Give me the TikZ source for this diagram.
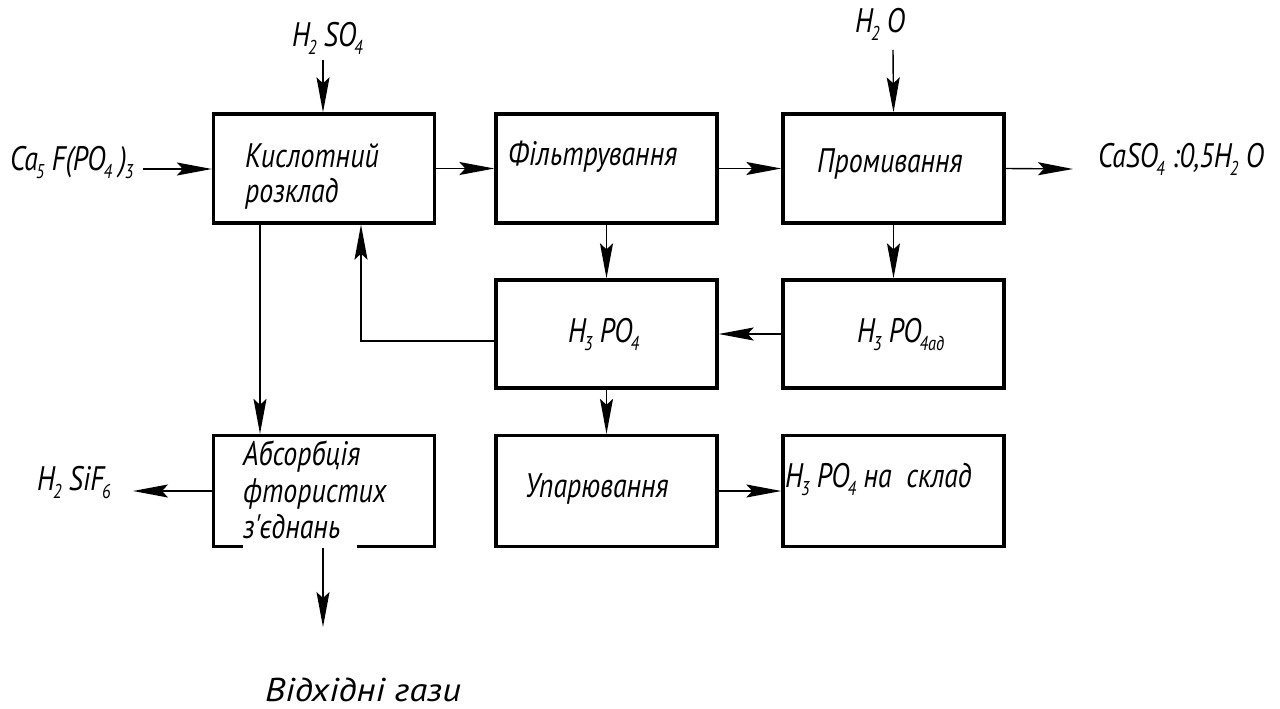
\documentclass[tikz,border=0pt]{standalone}
\usepackage{fontspec}
\setmainfont{PT Sans}
\newfontfamily\cf[FakeStretch=0.82]{PT Sans}
\newfontfamily\rf[FakeStretch=1.1]{PT Sans}
\usetikzlibrary{arrows.meta}
\newcommand\sbs[1]{\kern-2pt\raisebox{-8pt}{\fontsize{20}{20}\selectfont #1}}
\tikzset{
  boxst/.style={draw, line width=3.3pt, minimum width=221pt, inner sep=0pt},
  arr/.style={line width=1.4pt, -{Stealth[length=35pt,width=13pt,inset=6pt]}},
  lbl/.style={anchor=base west, inner sep=0pt, font=\cf\itshape\fontsize{34}{34}\selectfont},
}
\begin{document}
\begin{tikzpicture}[x=1pt,y=-1pt]
\useasboundingbox[fill=white] (0,0) rectangle (1280,709);
% boxes
\node[boxst, minimum height=109pt] (kr)   at (324,168.5) {};
\node[boxst, minimum height=109pt] (fil)  at (606.5,168.5) {};
\node[boxst, minimum height=109pt] (prom) at (893.5,168.5) {};
\node[boxst, minimum height=108pt] (hp)   at (606.5,334) {};
\node[boxst, minimum height=108pt] (had)  at (893.5,334) {};
\node[boxst, minimum height=111pt] (abs)  at (324,491) {};
\node[boxst, minimum height=111pt] (upar) at (606.5,491) {};
\node[boxst, minimum height=111pt] (skl)  at (893.5,491) {};
% box texts
\node[lbl] (t1a) at (245,167) {Кислотний};
\node[lbl] (t1b) at (245,202) {розклад};
\node[lbl] (t2) at (508,165) {Фільтрування};
\node[lbl] (t3) at (817,172) {Промивання};
\node[lbl] (t4) at (568,342) {H\sbs{3} PO\sbs{4}};
\node[lbl] (t5) at (857,342) {H\sbs{3} PO\sbs{4ад}};
\node[lbl] (t6a) at (243,465) {Абсорбція};
\node[lbl] (t6b) at (243,502) {фтористих};
\node[lbl, fill=white, inner xsep=0pt, inner ysep=3pt, text depth=9pt, text width=114pt] (t6c) at (243,538) {з'єднань};
\node[lbl] (t7) at (525,497) {Упарювання};
\node[lbl] (t8) at (785,487) {H\sbs{3} PO\sbs{4} на\ \ склад};
% outer labels
\node[lbl] (h2so4) at (292,47) {H\sbs{2} SO\sbs{4}};
\node[lbl] (ca5) at (10,170) {Ca\sbs{5} F(PO\sbs{4} )\sbs{3}};
\node[lbl] (h2o) at (855,33) {H\sbs{2} O};
\node[lbl] (caso4) at (1098,167) {CaSO\sbs{4} :0,5H\sbs{2} O};
\node[lbl] (h2sif6) at (37,490) {H\sbs{2} SiF\sbs{6}};
\node[anchor=base west, inner sep=0pt, font=\rf\itshape\fontsize{33}{33}\selectfont] (gas) at (265,701) {Відхідні гази};
% free ends
\coordinate (cSO) at (323,60);
\coordinate (cCa) at (143,169);
\coordinate (cH2O) at (893,50);
\coordinate (cCaS) at (1073,169);
\coordinate (cSiF) at (133,491);
\coordinate (cGas) at (323,627);
% connectors
\draw[arr] (cSO) -- (cSO |- kr.north);
\draw[arr] (cCa) -- (kr.west |- cCa);
\draw[arr] (kr.east) -- (fil.west);
\draw[arr] (fil.east) -- (prom.west);
\draw[arr] (cH2O) -- (prom.north);
\draw[arr] (prom.east) -- (cCaS);
\draw[arr] (fil.south) -- (hp.north);
\draw[arr] (prom.south) -- (had.north);
\draw[arr] (had.west) -- (hp.east);
\draw[arr] ([yshift=-7pt]hp.west) -| ([xshift=37pt]kr.south);
\draw[arr] ([xshift=-64pt]kr.south) -- ([xshift=-64pt]abs.north);
\draw[arr] (hp.south) -- (upar.north);
\draw[arr] (abs.west) -- (cSiF);
\draw[arr] (cGas |- abs.south) -- (cGas);
\draw[arr] (upar.east) -- (skl.west);
\end{tikzpicture}
\end{document}
